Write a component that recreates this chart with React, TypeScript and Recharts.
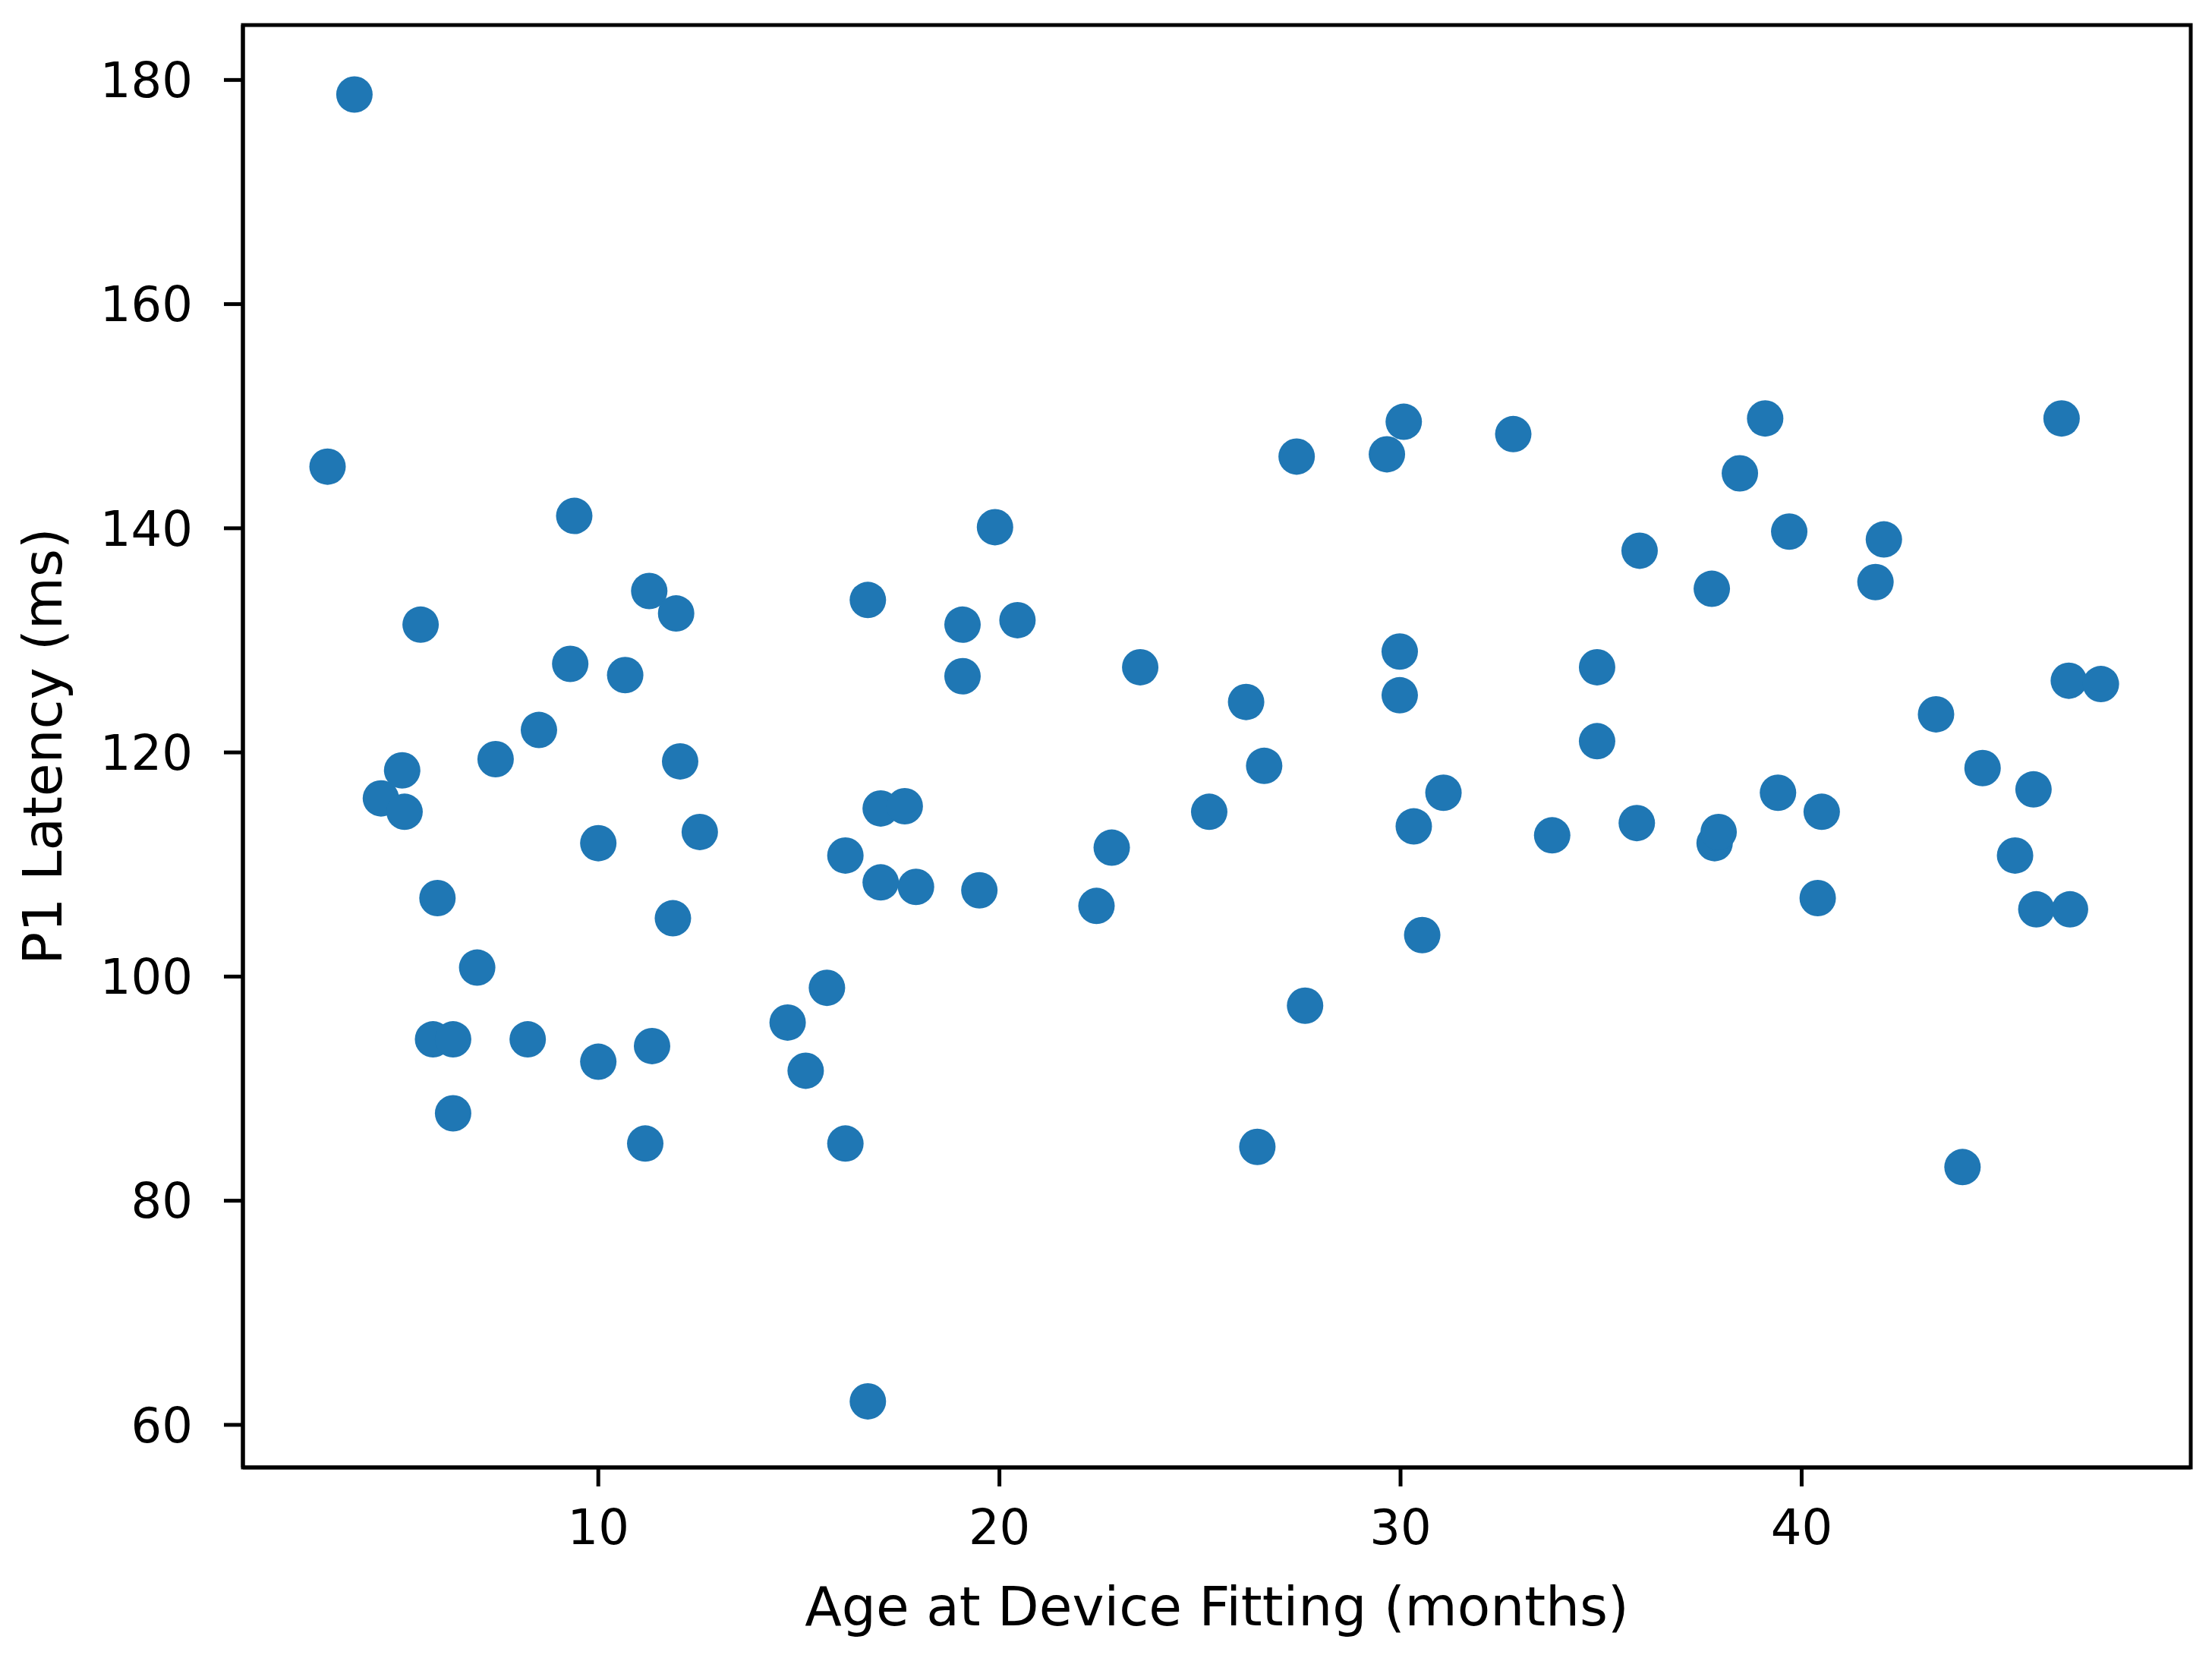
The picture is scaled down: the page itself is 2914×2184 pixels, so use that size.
// @ts-nocheck
import React from 'react'
import { ScatterChart, Scatter, XAxis, YAxis, ReferenceArea } from 'recharts'

// values
const ageMonths = [
  3.25, 3.92, 4.58, 5.11, 5.17, 5.57, 5.99, 5.88, 6.38, 6.38,
  6.98, 7.44, 8.24, 8.52, 9.3, 9.4, 10.0, 10.0, 10.67, 11.17,
  11.27, 11.34, 11.94, 12.04, 11.86, 12.53, 14.72, 15.17, 15.7, 16.16,
  16.16, 16.72, 16.72, 17.04, 17.04, 17.64, 17.92, 19.08, 19.08, 19.5,
  19.89, 20.45, 22.42, 22.8, 23.51, 25.23, 26.15, 26.6, 26.43, 27.41,
  27.62, 29.66, 30.08, 29.98, 29.98, 30.33, 30.54, 31.07, 32.81, 33.78,
  34.9, 34.9, 35.89, 35.96, 37.76, 37.83, 37.93, 38.46, 39.09, 39.41,
  39.69, 40.4, 40.5, 41.84, 42.05, 43.35, 44.01, 44.51, 45.32, 45.78,
  45.85, 46.48, 46.66, 46.69, 47.46,
]
const p1Latency = [
  145.5, 178.7, 115.9, 118.4, 114.7, 131.4, 107.0, 94.4, 94.4, 87.8,
  100.8, 119.4, 94.4, 122.0, 127.9, 141.1, 111.9, 92.4, 126.9, 85.1,
  134.4, 93.8, 132.4, 119.2, 105.2, 112.9, 95.9, 91.6, 99.0, 110.8,
  85.1, 133.6, 62.1, 115.0, 108.4, 115.2, 108.0, 131.4, 126.8, 107.7,
  140.1, 131.8, 106.3, 111.5, 127.6, 114.7, 124.5, 118.8, 84.8, 146.4,
  97.4, 146.6, 149.5, 129.0, 125.1, 113.4, 103.7, 116.4, 148.4, 112.6,
  127.6, 121.0, 113.7, 138.0, 134.6, 111.9, 112.9, 144.9, 149.8, 116.4,
  139.7, 107.0, 114.7, 135.2, 139.0, 123.4, 83.0, 118.6, 110.8, 116.7,
  106.0, 149.8, 126.4, 106.0, 126.1,
]
const xTicks = [10, 20, 30, 40]
const yTicks = [60, 80, 100, 120, 140, 160, 180]
const xDomain = [1.14, 49.7]
const yDomain = [56.2, 184.9]

const points = ageMonths.map((age, i) => ({ age, latency: p1Latency[i] }))

const font = 'DejaVu Sans'
const line = { stroke: '#000', strokeWidth: 5 }
const tickText = { fill: '#000', fontSize: 64, fontFamily: font }
const labelText = { fill: '#000', fontSize: 71, fontFamily: font, textAnchor: 'middle' }

const Dot = (props: any) => <circle cx={props.cx} cy={props.cy} r={24} fill="#1f77b4" />

export default function App() {
  return (
    <div style={{ position: 'absolute', left: 0, top: 0, background: '#fff' }}>
      <ScatterChart width={2914} height={2184} margin={{ top: 33, right: 28, bottom: 0, left: 0 }}>
        <XAxis
          dataKey="age"
          type="number"
          domain={xDomain}
          allowDataOverflow
          ticks={xTicks}
          tickSize={25}
          tickMargin={31}
          height={251}
          axisLine={line}
          tickLine={line}
          tick={tickText}
          label={{ value: 'Age at Device Fitting (months)', position: 'insideBottom', offset: 43, style: labelText }}
        />
        <YAxis
          dataKey="latency"
          type="number"
          domain={yDomain}
          allowDataOverflow
          ticks={yTicks}
          tickSize={25}
          tickMargin={41}
          width={320}
          axisLine={line}
          tickLine={line}
          tick={tickText}
          label={{ value: 'P1 Latency (ms)', angle: -90, position: 'insideLeft', offset: 56, style: labelText }}
        />
        {/* frame for the top and right spines */}
        <ReferenceArea
          x1={xDomain[0]}
          x2={xDomain[1]}
          y1={yDomain[0]}
          y2={yDomain[1]}
          fill="none"
          fillOpacity={0}
          stroke="#000"
          strokeWidth={5}
          strokeOpacity={1}
          ifOverflow="visible"
        />
        <Scatter data={points} shape={Dot} isAnimationActive={false} />
      </ScatterChart>
    </div>
  )
}
